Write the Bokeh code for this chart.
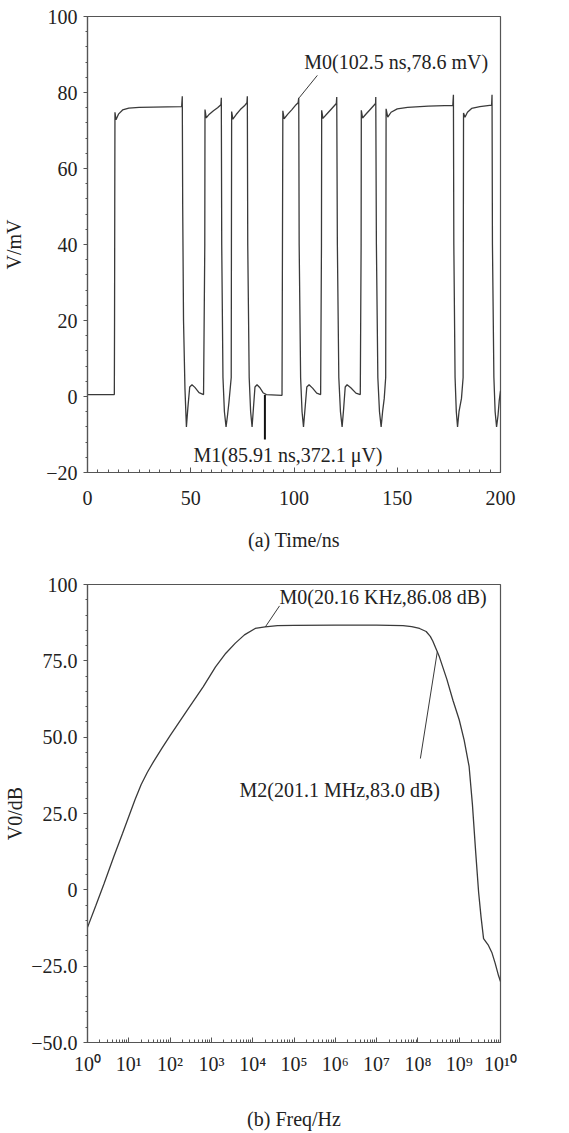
from bokeh.plotting import figure
from bokeh.layouts import column
from bokeh.models import FixedTicker, Label, CustomJSTickFormatter
from bokeh.embed import file_html
from bokeh.resources import INLINE

# ---------------- data: (a) transient waveform ----------------
time_ns = [0, 13.0, 13.1, 13.2, 13.3, 13.8, 15, 17, 20, 25, 45.6, 45.9, 46.1, 46.5, 47.2, 47.9, 48.6, 49.5, 50.6, 52, 54, 56.2,
           56.8, 56.9, 57.5, 59, 61, 63, 64.6, 64.8, 65.0, 65.6, 66.3, 67.1, 67.8, 68.5, 69.6,
           69.8, 70.4, 72, 74, 76, 77.2, 77.4, 77.6, 78.3, 79.0, 79.7, 80.3, 81.1, 82.1, 83.5, 85, 86.6, 94.2,
           94.6, 95.2, 97, 99, 101, 102.0, 102.3, 102.5, 103.2, 103.9, 104.6, 105.3, 106.2, 107.3, 109, 111, 112.9,
           113.3, 113.4, 114.0, 116, 118, 120.5, 120.7, 121.0, 121.7, 122.5, 123.3, 124.0, 124.8, 125.7, 127.5, 130, 132.1,
           132.5, 132.6, 133.2, 135, 137, 139.5, 139.6, 139.9, 140.6, 141.4, 142.2, 142.9, 143.7, 144.4,
           144.6, 145.4, 147, 150, 155, 165, 176.9, 177.2, 177.4, 178.0, 178.6, 179.2, 179.9, 181.1, 181.9,
           182.1, 182.8, 184, 186, 190, 195.7, 195.9, 196.1, 196.8, 197.4, 198.1, 198.8, 199.4, 200]
volt_mv = [0.5, 0.5, 20, 50, 74.8, 72.8, 74.3, 75.4, 75.9, 76.1, 76.3, 79.0, 50, 20, 2, -8, -3, 2.5, 3.1, 2.4, 1.0, 0.5,
           40, 75.5, 73.3, 74.3, 75.2, 76.0, 76.8, 78.6, 40, 5, -4, -8, -5, -1.5, 5,
           75.0, 73.0, 74.2, 75.5, 76.5, 77.3, 79.0, 40, 5, -4, -8, -3.5, 2.5, 3.1, 2.3, 1.0, 0.5, 0.3,
           75.2, 73.1, 74.3, 75.5, 76.8, 77.3, 78.6, 40, 5, -4, -8, -3.5, 2.5, 3.1, 2.2, 0.9, 0.5,
           40, 75.3, 73.2, 74.4, 75.6, 77.1, 78.8, 40, 5, -4, -8, -3.5, 2.5, 3.1, 2.3, 0.9, 0.5,
           40, 75.3, 73.3, 74.4, 75.6, 77.1, 78.8, 40, 5, -4, -8, -4, -0.5, 5,
           75.7, 73.5, 74.8, 75.7, 76.1, 76.4, 76.6, 79.4, 40, 5, -4, -8, -4, -0.5, 5,
           74.6, 73.5, 74.8, 75.8, 76.3, 76.7, 79.4, 40, 5, -4, -8, -5, -1, 1.5]

m0_time, m0_volt = 102.5, 78.6
m1_time, m1_volt = 85.91, 0.3721
m0_text_a = "M0(102.5 ns,78.6 mV)"
m1_text_a = "M1(85.91 ns,372.1 μV)"

x_ticks_a = [0, 50, 100, 150, 200]
y_ticks_a = [-20, 0, 20, 40, 60, 80, 100]
y_labels_a = {-20: "\u221220"}

# ---------------- data: (b) frequency response ----------------
freq_exp = [0, 0.2, 0.4, 0.64, 0.85, 1.0, 1.15, 1.3, 1.45, 1.6, 1.8, 2.0, 2.4, 2.8, 3.1, 3.35, 3.58, 3.8, 4.06, 4.3,
            4.6, 5.0, 6.0, 7.0, 7.64, 7.85, 8.04, 8.2, 8.3, 8.36, 8.52, 8.7, 8.85, 9.0, 9.12, 9.24, 9.32, 9.40, 9.47, 9.53,
            9.59, 9.7, 9.79, 9.87, 9.95, 10.0]
gain_db = [-12.3, -5.2, 2.0, 11.0, 18.5, 24.0, 29.5, 34.5, 38.5, 42.0, 46.3, 50.5, 58.5, 66.5, 73.0, 77.5, 80.8, 83.5, 85.6, 86.1,
           86.5, 86.6, 86.7, 86.7, 86.5, 86.2, 85.6, 84.6, 83.0, 81.5, 76.3, 69.0, 62.0, 55.7, 49.0, 40.4, 28.0, 12.2, -0.8, -9.0,
           -16.0, -18.0, -20.5, -24.0, -28.0, -30.0]
freq_hz = [10 ** e for e in freq_exp]

m0_freq, m0_db = 20160.0, 86.08
m2_freq, m2_db = 201.1e6, 83.0
m0_text_b = "M0(20.16 KHz,86.08 dB)"
m2_text_b = "M2(201.1 MHz,83.0 dB)"

y_ticks_b = [-50, -25, 0, 25, 50, 75, 100]
y_labels_b = {100: "100", 75: "75.0", 50: "50.0", 25: "25.0", 0: "0", -25: "\u221225.0", -50: "\u221250.0"}

FONT = "Liberation Serif"
FS = "20px"
TXT = "#222222"
LINE = "#3a3a3a"
AX = "#555555"


def style(p):
    p.background_fill_color = "white"
    p.border_fill_color = "white"
    p.outline_line_color = AX
    p.outline_line_width = 1.2
    p.grid.visible = False
    for ax in (p.xaxis[0], p.yaxis[0]):
        ax.axis_line_color = AX
        ax.axis_line_width = 1.2
        ax.major_tick_line_color = AX
        ax.minor_tick_line_color = AX
        ax.major_label_text_font = FONT
        ax.major_label_text_font_size = FS
        ax.major_label_text_color = TXT
        ax.axis_label_text_font = FONT
        ax.axis_label_text_font_size = FS
        ax.axis_label_text_font_style = "normal"
        ax.axis_label_text_color = TXT
    p.xaxis.major_tick_in = 5
    p.xaxis.major_tick_out = 0
    p.xaxis.minor_tick_in = 3
    p.xaxis.minor_tick_out = 0
    p.yaxis.major_tick_in = 0
    p.yaxis.major_tick_out = 4
    p.yaxis.minor_tick_in = 0
    p.yaxis.minor_tick_out = 2
    p.yaxis.major_label_standoff = 6


# ---------------- figure (a) ----------------
p1 = figure(width=561, height=568, x_range=(0, 200), y_range=(-20, 100),
            output_backend="svg", toolbar_location=None,
            min_border_left=83, min_border_right=61, min_border_top=16, min_border_bottom=96)
style(p1)
p1.xaxis.ticker = FixedTicker(ticks=x_ticks_a, minor_ticks=list(range(0, 201, 5)))
p1.yaxis.ticker = FixedTicker(ticks=y_ticks_a, minor_ticks=list(range(-20, 101, 4)))
p1.yaxis.major_label_overrides = y_labels_a
p1.xaxis.axis_label = "(a) Time/ns"
p1.xaxis.major_label_standoff = 18
p1.xaxis.axis_label_standoff = 21
p1.yaxis.axis_label = "V/mV"
p1.yaxis.axis_label_standoff = 18

p1.line(time_ns, volt_mv, line_color=LINE, line_width=1.3)
# markers
p1.segment(x0=[m1_time], y0=[m1_volt], x1=[m1_time], y1=[-11.3], line_color="#111111", line_width=2)
p1.segment(x0=[m0_time], y0=[m0_volt], x1=[111.3], y1=[84.5], line_color=LINE, line_width=1)
p1.add_layout(Label(x=105, y=88, text=m0_text_a, text_font=FONT, text_font_size=FS,
                    text_color=TXT, text_baseline="middle", text_align="left"))
p1.add_layout(Label(x=51.3, y=-15.5, text=m1_text_a, text_font=FONT, text_font_size=FS,
                    text_color=TXT, text_baseline="middle", text_align="left"))

# ---------------- figure (b) ----------------
p2 = figure(width=561, height=564, x_axis_type="log", x_range=(1, 1e10), y_range=(-50, 100),
            output_backend="svg", toolbar_location=None,
            min_border_left=83, min_border_right=59, min_border_top=16, min_border_bottom=88)
style(p2)
p2.xaxis.ticker = FixedTicker(ticks=[10 ** i for i in range(11)],
                              minor_ticks=[k * 10 ** i for i in range(10) for k in range(2, 10)])
p2.xaxis.formatter = CustomJSTickFormatter(code="""
const sup = ['\u2070','\u00b9','\u00b2','\u00b3','\u2074','\u2075','\u2076','\u2077','\u2078','\u2079'];
const e = Math.round(Math.log10(tick));
return '10' + String(e).split('').map(c => sup[+c]).join('');
""")
p2.yaxis.ticker = FixedTicker(ticks=y_ticks_b, minor_ticks=list(range(-50, 101, 5)))
p2.yaxis.major_label_overrides = y_labels_b
p2.xaxis.axis_label = "(b) Freq/Hz"
p2.xaxis.major_label_standoff = 10
p2.xaxis.axis_label_standoff = 30
p2.yaxis.axis_label = "V0/dB"
p2.yaxis.axis_label_standoff = 2

p2.line(freq_hz, gain_db, line_color=LINE, line_width=1.3)
p2.segment(x0=[m0_freq], y0=[m0_db], x1=[10 ** 4.65], y1=[93], line_color=LINE, line_width=1)
p2.segment(x0=[10 ** 8.47], y0=[78], x1=[10 ** 8.06], y1=[43], line_color=LINE, line_width=1)
p2.add_layout(Label(x=10 ** 4.65, y=96, text=m0_text_b, text_font=FONT, text_font_size=FS,
                    text_color=TXT, text_baseline="middle", text_align="left"))
p2.add_layout(Label(x=10 ** 3.68, y=32.8, text=m2_text_b, text_font=FONT, text_font_size=FS,
                    text_color=TXT, text_baseline="middle", text_align="left"))

layout = column(p1, p2)
open("out.html", "w").write(file_html(layout, INLINE))
